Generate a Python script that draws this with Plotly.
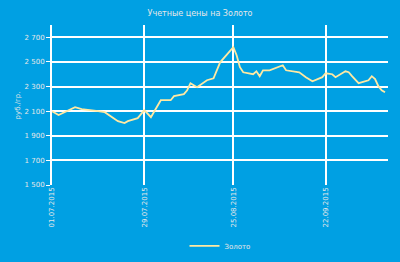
import plotly.graph_objects as go

dates = ["2015-07-01","2015-07-03","2015-07-08","2015-07-10","2015-07-15","2015-07-17",
         "2015-07-21","2015-07-23","2015-07-24","2015-07-27","2015-07-29","2015-07-31",
         "2015-08-03","2015-08-06","2015-08-07","2015-08-10","2015-08-11","2015-08-12",
         "2015-08-14","2015-08-17","2015-08-19","2015-08-21","2015-08-25","2015-08-26",
         "2015-08-27","2015-08-28","2015-08-31","2015-09-01","2015-09-02","2015-09-03",
         "2015-09-05","2015-09-08","2015-09-09","2015-09-10","2015-09-14","2015-09-16",
         "2015-09-18","2015-09-21","2015-09-22","2015-09-24","2015-09-25","2015-09-28",
         "2015-09-29","2015-09-30","2015-10-02","2015-10-05","2015-10-06","2015-10-07",
         "2015-10-08","2015-10-09","2015-10-10"]
values = [2100,2068,2133,2117,2100,2092,
          2019,2003,2019,2043,2108,2051,
          2189,2189,2222,2238,2270,2327,
          2295,2351,2367,2497,2619,2554,
          2457,2416,2400,2424,2384,2432,
          2432,2465,2473,2432,2416,2376,
          2343,2376,2408,2400,2376,2424,
          2416,2384,2327,2351,2384,2360,
          2303,2270,2254]

tick_dates = ["2015-07-01","2015-07-29","2015-08-25","2015-09-22"]
tick_labels = ["01.07.2015","29.07.2015","25.08.2015","22.09.2015"]
y_ticks = [1500,1700,1900,2100,2300,2500,2700]

bg = "#00A0E3"
txt = "#e8e8e8"

fig = go.Figure()
fig.add_trace(go.Scatter(x=dates, y=values, mode="lines", name="Золото",
                         line=dict(color="#FFE9A3", width=1.8)))

fig.update_layout(
    width=400, height=262,
    paper_bgcolor=bg, plot_bgcolor=bg,
    margin=dict(l=52, r=12, t=25, b=77, autoexpand=False),
    separators=", ",
    font=dict(family="DejaVu Sans", size=7, color=txt),
    title=dict(text="Учетные цены на Золото", x=0.5, xanchor="center",
               y=0.948, yanchor="middle", font=dict(size=8, color=txt)),
    showlegend=True,
    legend=dict(orientation="h", x=0.5, xanchor="center", y=-0.38, yanchor="middle",
                font=dict(size=7, color=txt), bgcolor="rgba(0,0,0,0)"),
    annotations=[dict(text="руб./гр.", xref="paper", yref="paper", x=-0.1, y=0.5,
                      xanchor="center", yanchor="middle", textangle=-90, showarrow=False,
                      font=dict(size=7, color=txt))],
)
fig.update_xaxes(
    type="date", range=["2015-07-01", "2015-10-10 22:00"], automargin=False,
    tickvals=tick_dates, ticktext=tick_labels, tickangle=-90,
    showgrid=True, gridcolor="white", gridwidth=2,
    showline=False, zeroline=False, ticks="",
)
fig.update_yaxes(
    range=[1500, 2800], tickvals=y_ticks, tickformat=",d", automargin=False,
    showgrid=True, gridcolor="white", gridwidth=2,
    showline=True, linecolor="white", linewidth=2,
    ticks="outside", ticklen=4, tickcolor="white", zeroline=False,
)
fig.write_html("out.html")
